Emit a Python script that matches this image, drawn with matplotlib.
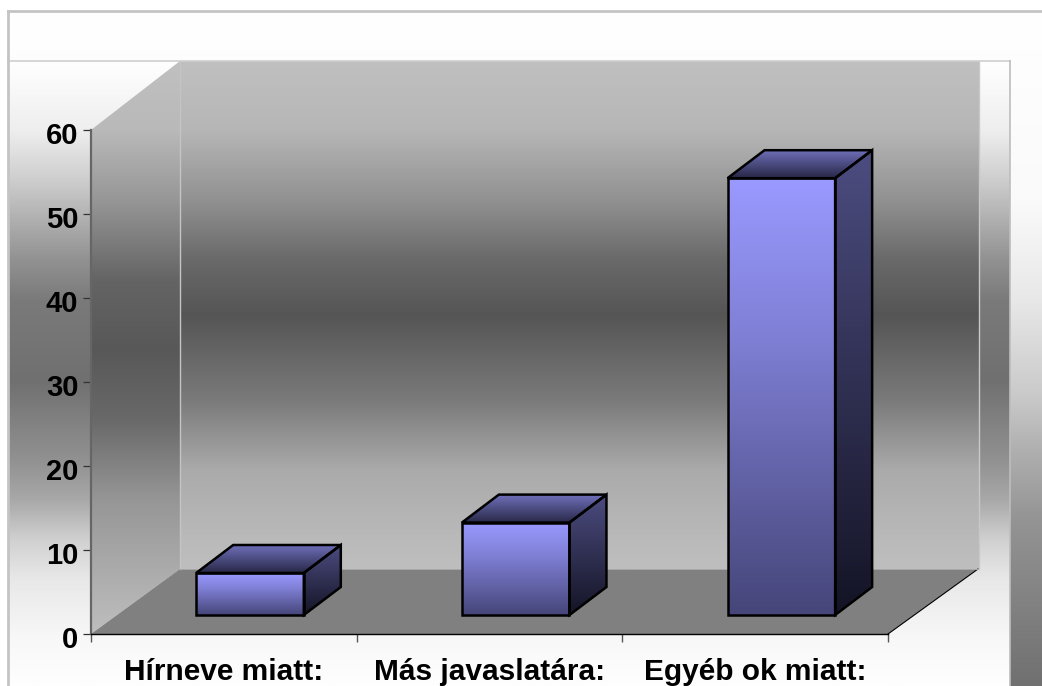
import numpy as np
import matplotlib
matplotlib.use('Agg')
import matplotlib.pyplot as plt
from matplotlib.patches import Polygon
from matplotlib.transforms import ScaledTranslation

categories = ['Hírneve miatt:', 'Más javaslatára:', 'Egyéb ok miatt:']
values = [5, 11, 52]
y_ticks = [0, 10, 20, 30, 40, 50, 60]

plt.rcParams['font.family'] = ['Liberation Sans', 'DejaVu Sans']

W, H = 1042, 686
fig = plt.figure(figsize=(W/100, H/100), dpi=100, facecolor='white')


def grey_col(stops, y0, y1, n=256):
    # vertical grey ramp, stops are (pixel y, grey level)
    ys = np.linspace(y0, y1, n)
    g = np.interp(ys, [s[0] for s in stops], [s[1] for s in stops]) / 255
    return np.dstack([g, g, g]).reshape(n, 1, 3)


def fill(ax, pts, img, extent):
    # paint a ramp and clip it to a polygon
    poly = Polygon(pts, closed=True, transform=ax.transData, fc='none', ec='none')
    ax.add_patch(poly)
    im = ax.imshow(img, extent=extent, aspect='auto', interpolation='bilinear', origin='upper')
    im.set_clip_path(poly)


# background, in pixels
bg = fig.add_axes([0, 0, 1, 1])
bg.set_xlim(0, W)
bg.set_ylim(H, 0)
bg.axis('off')

outer = [(11, 255), (200, 250), (300, 232), (400, 200), (450, 176), (520, 148), (686, 112)]
area = [(61, 255), (130, 238), (180, 205), (260, 145), (300, 122), (380, 112), (460, 145),
        (500, 168), (540, 208), (580, 232), (640, 248), (686, 254)]
wall = [(61, 192), (130, 182), (200, 145), (260, 105), (315, 85), (400, 122), (470, 170), (540, 186), (569, 190)]
side = [(61, 192), (130, 185), (200, 150), (280, 100), (350, 88), (420, 105), (500, 150), (634, 190)]

bg.imshow(grey_col(outer, 11, H), extent=(8, W, H, 11), aspect='auto')
bg.imshow(grey_col(area, 61, H), extent=(8, 1010, H, 61), aspect='auto')
fill(bg, [(180, 61), (979, 61), (979, 569), (180, 569)], grey_col(wall, 61, 569), (180, 979, 569, 61))
fill(bg, [(91, 130), (180, 61), (180, 569), (91, 634)], grey_col(side, 61, 634), (91, 180, 634, 61))
bg.add_patch(Polygon([(91, 634), (888, 634), (978, 569), (180, 569)], fc='#808080', ec='none'))
bg.plot([888, 978], [634, 569], color='black', lw=0.8)
bg.plot([180, 180], [61, 569], color='#c4c4c4', lw=1)
bg.plot([979, 979], [61, 569], color='#c8c8c8', lw=1)
bg.plot([180, 978], [569, 569], color='#a8a8a8', lw=0.7)
bg.plot([8, 1010], [61, 61], color='#cfcfcf', lw=1.2)
bg.plot([1010, 1010], [61, H], color='#bdbdbd', lw=1.2)
bg.plot([8, W], [11, 11], color='#c4c4c4', lw=2)
bg.plot([8, 8], [11, H], color='#c4c4c4', lw=2)
bg.set_xlim(0, W)
bg.set_ylim(H, 0)

# front plane of the chart
ax = fig.add_axes([91/W, 1 - 634/H, 797/W, 504/H])
ax.patch.set_alpha(0)
ax.set_xlim(0, len(categories))
ax.set_ylim(0, 60)

px_x = len(categories) / 797
px_y = 60 / 504
lift_x, lift_y = 25.5 * px_x, 19 * px_y      # bar front sits back from the axis plane
depth_x, depth_y = 37 * px_x, 28 * px_y
bar_w = 0.405


def ramp(top, bottom, mid=None, n=64):
    top, bottom = np.array(top), np.array(bottom)
    t = np.linspace(0, 1, n)[:, None]
    if mid is not None:
        t = np.interp(t, [0, mid[0], 1], [0, mid[1], 1])
    return (top + (bottom - top) * t).reshape(n, 1, 3) / 255


for i, v in enumerate(values):
    x0 = i + 0.3 + lift_x
    x1 = x0 + bar_w
    y0 = lift_y
    y1 = lift_y + v

    front = [(x0, y0), (x1, y0), (x1, y1), (x0, y1)]
    right = [(x1, y0), (x1 + depth_x, y0 + depth_y), (x1 + depth_x, y1 + depth_y), (x1, y1)]
    top = [(x0, y1), (x1, y1), (x1 + depth_x, y1 + depth_y), (x0 + depth_x, y1 + depth_y)]

    fill(ax, front, ramp((153, 153, 255), (70, 70, 122), mid=(0.35, 0.3)), (x0, x1, y0, y1))
    fill(ax, right, ramp((76, 76, 128), (20, 20, 38)), (x1, x1 + depth_x, y0, y1 + depth_y))
    fill(ax, top, ramp((110, 110, 184), (40, 40, 72)), (x0, x1 + depth_x, y1, y1 + depth_y))
    for face in (front, right, top):
        ax.add_patch(Polygon(face, closed=True, fc='none', ec='black', lw=1.8,
                             joinstyle='miter', clip_on=False))

ax.set_xlim(0, len(categories))
ax.set_ylim(0, 60)

ax.set_yticks(y_ticks)
ax.set_xticks(range(len(categories) + 1))
ax.set_xticklabels([])
ax.set_xticks(np.arange(len(categories)) + 0.5, categories, minor=True)
ax.tick_params(axis='y', length=6, width=0.9, color='#333333', pad=3, labelsize=21, labelcolor='black')
ax.tick_params(axis='x', which='major', length=6, width=1, color='#555555')
ax.tick_params(axis='x', which='minor', length=0, pad=17.5, labelsize=21.5, labelcolor='black')
for lab in ax.get_yticklabels():
    lab.set_fontweight('bold')
    lab.set_transform(lab.get_transform() + ScaledTranslation(0, -2/72, fig.dpi_scale_trans))
for lab in ax.get_xticklabels(minor=True):
    lab.set_fontweight('bold')
for s in ['top', 'right']:
    ax.spines[s].set_visible(False)
ax.spines['left'].set_color('#666666')
ax.spines['left'].set_linewidth(1.6)
ax.spines['left'].set_bounds(0, 60)
ax.spines['bottom'].set_color('black')
ax.spines['bottom'].set_linewidth(1)

fig.savefig('out.png', dpi=100)
